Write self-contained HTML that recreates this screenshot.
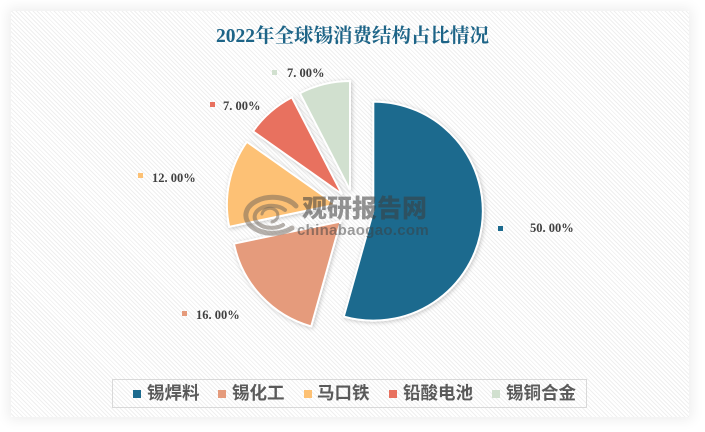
<!DOCTYPE html>
<html>
<head>
<meta charset="utf-8">
<style>
  html,body{margin:0;padding:0;}
  body{width:705px;height:432px;position:relative;overflow:hidden;background:#fff;
       font-family:"Liberation Sans","Noto Sans CJK SC",sans-serif;}
  .panel{position:absolute;left:11px;top:11px;width:678px;height:406px;
         background:repeating-linear-gradient(45deg,#ffffff 0px,#ffffff 2px,#efefef 2px,#efefef 3px);
         box-shadow:0 0 12px 3px rgba(0,0,0,0.07);}
  .title{position:absolute;left:0;width:705px;top:26px;text-align:center;
         font-family:"Liberation Serif","Noto Serif CJK SC",serif;font-weight:bold;
         font-size:19.5px;line-height:22px;color:#1d6487;}
  .lbl{position:absolute;font-family:"Liberation Serif","Noto Serif CJK SC",serif;
       font-weight:bold;font-size:12.5px;line-height:12px;color:#404040;white-space:nowrap;}
  .mk{position:absolute;width:5px;height:5px;}
  .legend{position:absolute;left:112px;top:379px;width:475px;height:29px;
          border:1px solid #d9d9d9;box-sizing:border-box;}
  .lsq{position:absolute;width:8px;height:8px;top:390px;}
  .ltx{position:absolute;top:383px;font-family:"Noto Sans CJK SC",sans-serif;
       font-size:17.5px;line-height:20px;color:#5a5a5a;font-weight:bold;white-space:nowrap;}
  .wm1{position:absolute;left:302px;top:193px;font-family:"Noto Sans CJK SC",sans-serif;
       font-weight:900;font-size:25px;line-height:28px;color:rgba(60,60,60,0.55);letter-spacing:0px;white-space:nowrap;}
  .wm2{position:absolute;left:297px;top:223px;font-family:"Liberation Sans",sans-serif;
       font-weight:bold;font-size:15px;line-height:16px;color:rgba(60,60,60,0.5);letter-spacing:0.3px;white-space:nowrap;}
</style>
</head>
<body>
<div class="panel"></div>
<div class="title">2022年全球锡消费结构占比情况</div>

<svg width="705" height="432" style="position:absolute;left:0;top:0;">
  <defs>
    <filter id="sh" x="-20%" y="-20%" width="140%" height="140%">
      <feDropShadow dx="1" dy="1" stdDeviation="2" flood-color="#000" flood-opacity="0.22"/>
    </filter>
  </defs>
  <g filter="url(#sh)" stroke="#ffffff" stroke-width="2" stroke-linejoin="miter">
    <path d="M373.32,211.09 L373.32,101.59 A109.5,109.5 0 1 1 343.78,316.53 Z" fill="#1c6a8e"/>
    <path d="M340.61,221.47 L311.20,326.43 A109,109 0 0 1 233.89,243.64 Z" fill="#e59b7c"/>
    <path d="M335.90,204.63 L229.18,226.80 A109,109 0 0 1 246.85,141.77 Z" fill="#fdc174"/>
    <path d="M342.02,194.18 L252.97,131.32 A109,109 0 0 1 291.87,97.40 Z" fill="#e8715f"/>
    <path d="M350.00,190.04 L299.85,93.26 A109,109 0 0 1 350.00,81.04 Z" fill="#d1e0cf"/>
  </g>
  <!-- watermark logo swirl -->
  <g fill="none" stroke="rgba(110,100,90,0.5)" stroke-linecap="round">
    <path d="M296,206 A27,18 0 1 0 292,228" stroke-width="5"/>
    <path d="M285,210 A17,11 0 1 0 283,225" stroke-width="4"/>
    <path d="M262,214 A8,7 0 1 1 272,222" stroke-width="3"/>
  </g>
</svg>

<div class="wm1">观研报告网</div>
<div class="wm2">chinabaogao.com</div>

<!-- data labels -->
<div class="mk" style="left:272px;top:70px;background:#d1e0cf;"></div>
<div class="lbl" style="left:287px;top:67px;">7. 00%</div>

<div class="mk" style="left:210px;top:102px;background:#e8715f;"></div>
<div class="lbl" style="left:223px;top:100px;">7. 00%</div>

<div class="mk" style="left:138px;top:173px;background:#fdc174;"></div>
<div class="lbl" style="left:152px;top:172px;">12. 00%</div>

<div class="mk" style="left:182px;top:311px;background:#e59b7c;"></div>
<div class="lbl" style="left:196px;top:309px;">16. 00%</div>

<div class="mk" style="left:498px;top:226px;background:#1c6a8e;"></div>
<div class="lbl" style="left:530px;top:222px;">50. 00%</div>

<!-- legend -->
<div class="legend"></div>
<div class="lsq" style="left:133px;background:#1c6a8e;"></div>
<div class="ltx" style="left:147px;">锡焊料</div>
<div class="lsq" style="left:218px;background:#e59b7c;"></div>
<div class="ltx" style="left:232px;">锡化工</div>
<div class="lsq" style="left:304px;background:#fdc174;"></div>
<div class="ltx" style="left:317px;">马口铁</div>
<div class="lsq" style="left:389px;background:#e8715f;"></div>
<div class="ltx" style="left:403px;">铅酸电池</div>
<div class="lsq" style="left:492px;background:#d1e0cf;"></div>
<div class="ltx" style="left:506px;">锡铜合金</div>
</body>
</html>
